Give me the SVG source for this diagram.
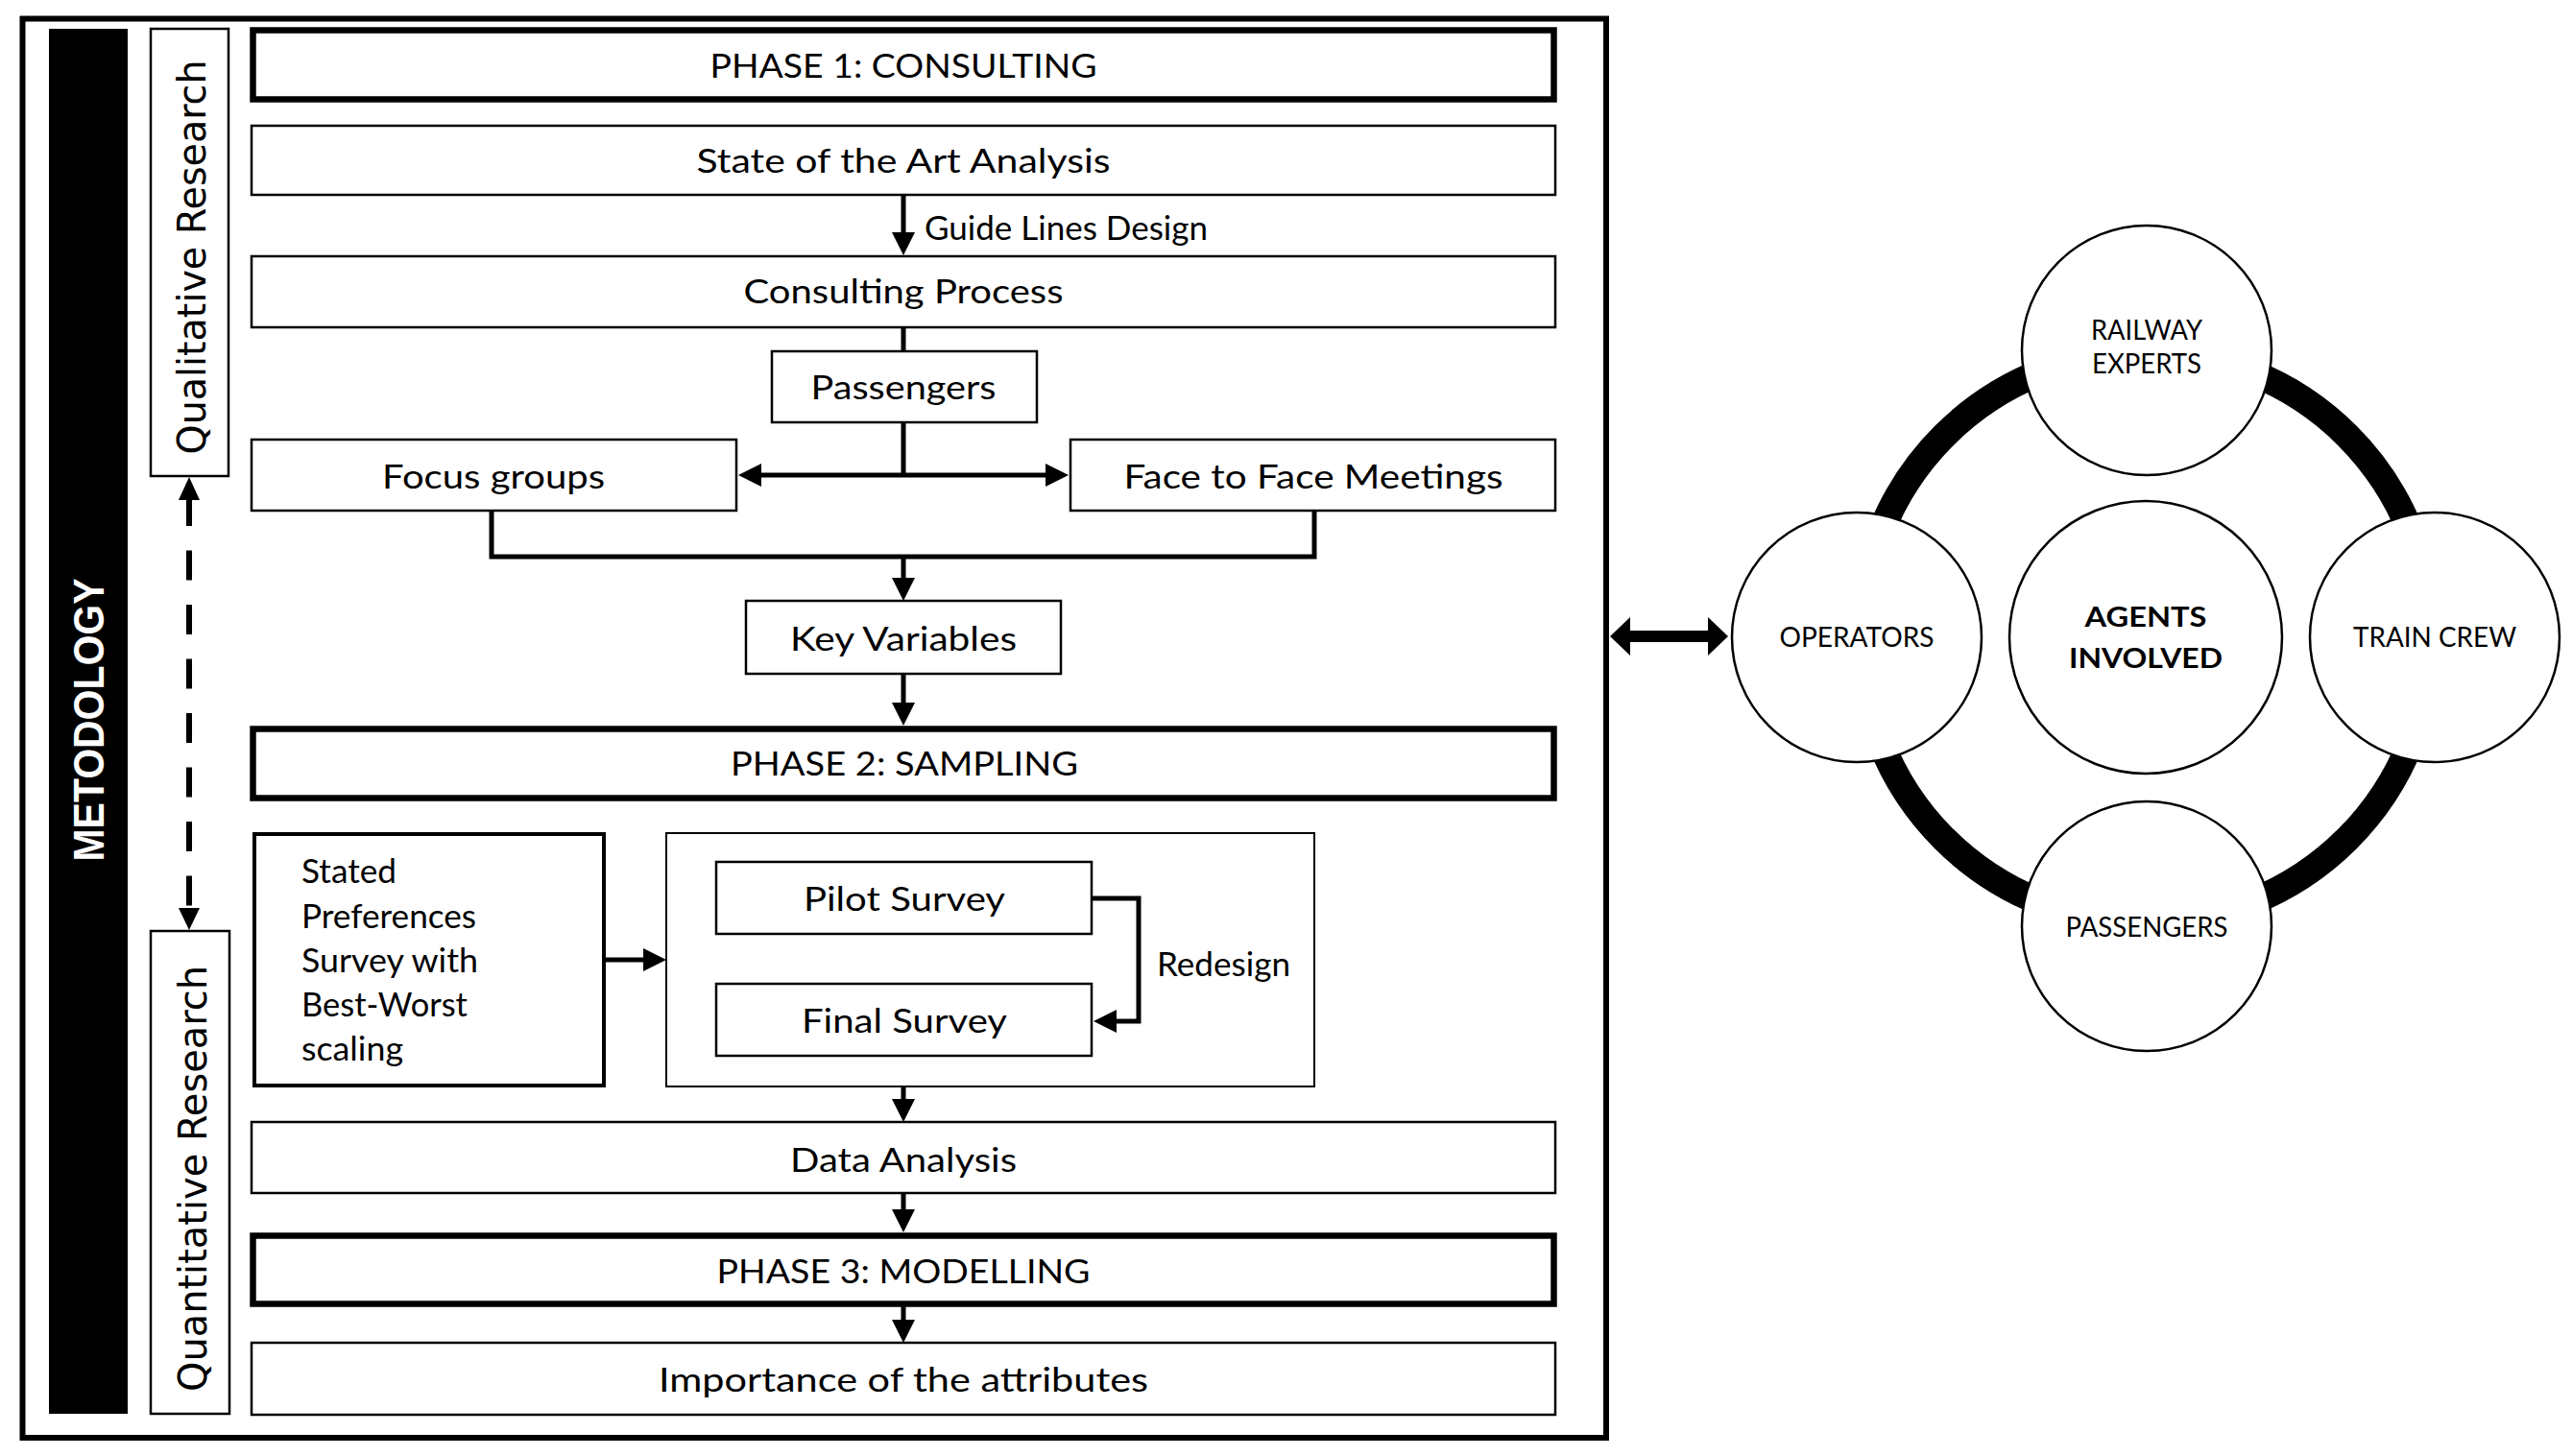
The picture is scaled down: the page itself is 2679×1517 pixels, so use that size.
<svg xmlns="http://www.w3.org/2000/svg" width="2679" height="1517" viewBox="0 0 2679 1517">
<style>
.t{font-family:Lato,"Liberation Sans",sans-serif;font-size:34px;fill:#000;text-anchor:middle}
.tl{text-anchor:start}
.box{fill:#fff;stroke:#000;stroke-width:2.5}
.phase{fill:#fff;stroke:#000;stroke-width:6.5}
.ln{fill:none;stroke:#000;stroke-width:5}
.ct{font-family:Lato,"Liberation Sans",sans-serif;font-size:28px;fill:#000;text-anchor:middle}
.circ{fill:#fff;stroke:#000;stroke-width:2.5}
</style>
<defs>
<marker id="a" viewBox="0 0 24 24" markerUnits="userSpaceOnUse" markerWidth="24" markerHeight="24" refX="18" refY="12" orient="auto-start-reverse">
<path d="M0,0 L24,12 L0,24 z" fill="#000"/>
</marker>
</defs>
<rect width="2679" height="1517" fill="#fff"/>

<g id="frame">
<rect x="23.5" y="19.5" width="1649.5" height="1478.5" fill="none" stroke="#000" stroke-width="6"/>
</g>

<g id="metodology">
<rect x="51" y="30" width="82" height="1443" fill="#000"/>
<text transform="translate(108,750) rotate(-90)" font-family="'Liberation Sans',Arial,sans-serif" font-weight="bold" font-size="44" fill="#fff" text-anchor="middle" textLength="295" lengthAdjust="spacingAndGlyphs">METODOLOGY</text>
</g>

<g id="qualitative">
<rect class="box" x="157" y="30" width="81" height="466"/>
<text transform="translate(214,268) rotate(-90)" font-family="'DejaVu Sans',sans-serif" font-size="40" text-anchor="middle" textLength="411" lengthAdjust="spacingAndGlyphs">Qualitative Research</text>
</g>

<g id="quantitative">
<rect class="box" x="157" y="970" width="82" height="503"/>
<text transform="translate(215,1228) rotate(-90)" font-family="'DejaVu Sans',sans-serif" font-size="40" text-anchor="middle" textLength="444" lengthAdjust="spacingAndGlyphs">Quantitative Research</text>
</g>

<g id="phase1">
<rect class="phase" x="263.5" y="31.5" width="1355" height="72"/>
<text class="t" x="941" y="81" textLength="403" lengthAdjust="spacingAndGlyphs">PHASE 1: CONSULTING</text>
</g>

<g id="state">
<rect class="box" x="262" y="131" width="1358" height="72"/>
<text class="t" x="941" y="180" textLength="431" lengthAdjust="spacingAndGlyphs">State of the Art Analysis</text>
</g>

<g id="consulting">
<rect class="box" x="262" y="267" width="1358" height="74"/>
<text class="t" x="941" y="316" textLength="333" lengthAdjust="spacingAndGlyphs">Consulting Process</text>
</g>

<g id="passengers-box">
<rect class="box" x="804" y="366" width="276" height="74"/>
<text class="t" x="941" y="416" textLength="193" lengthAdjust="spacingAndGlyphs">Passengers</text>
</g>

<g id="focus">
<rect class="box" x="262" y="458" width="505" height="74"/>
<text class="t" x="514" y="509" textLength="232" lengthAdjust="spacingAndGlyphs">Focus groups</text>
</g>

<g id="face">
<rect class="box" x="1115" y="458" width="505" height="74"/>
<text class="t" x="1368" y="509" textLength="395" lengthAdjust="spacingAndGlyphs">Face to Face Meetings</text>
</g>

<g id="keyvars">
<rect class="box" x="777" y="626" width="328" height="76"/>
<text class="t" x="941" y="678" textLength="236" lengthAdjust="spacingAndGlyphs">Key Variables</text>
</g>

<g id="phase2">
<rect class="phase" x="263.5" y="759.5" width="1355" height="72"/>
<text class="t" x="942" y="808" textLength="362" lengthAdjust="spacingAndGlyphs">PHASE 2: SAMPLING</text>
</g>

<g id="stated">
<rect x="265" y="869" width="364" height="262" fill="#fff" stroke="#000" stroke-width="4"/>
<text class="t tl" x="314" y="920" textLength="99" lengthAdjust="spacingAndGlyphs">Stated</text>
<text class="t tl" x="314" y="967" textLength="182" lengthAdjust="spacingAndGlyphs">Preferences</text>
<text class="t tl" x="314" y="1013" textLength="184" lengthAdjust="spacingAndGlyphs">Survey with</text>
<text class="t tl" x="314" y="1059" textLength="173" lengthAdjust="spacingAndGlyphs">Best-Worst</text>
<text class="t tl" x="314" y="1105" textLength="106" lengthAdjust="spacingAndGlyphs">scaling</text>
</g>

<g id="survey-group">
<rect x="694" y="868" width="675" height="264" fill="#fff" stroke="#000" stroke-width="2"/>
</g>

<g id="pilot">
<rect class="box" x="746" y="898" width="391" height="75"/>
<text class="t" x="942" y="949" textLength="210" lengthAdjust="spacingAndGlyphs">Pilot Survey</text>
</g>

<g id="final">
<rect class="box" x="746" y="1025" width="391" height="75"/>
<text class="t" x="942" y="1076" textLength="214" lengthAdjust="spacingAndGlyphs">Final Survey</text>
</g>

<g id="data">
<rect class="box" x="262" y="1169" width="1358" height="74"/>
<text class="t" x="941" y="1221" textLength="236" lengthAdjust="spacingAndGlyphs">Data Analysis</text>
</g>

<g id="phase3">
<rect class="phase" x="263.5" y="1287.5" width="1355" height="71"/>
<text class="t" x="941" y="1337" textLength="389" lengthAdjust="spacingAndGlyphs">PHASE 3: MODELLING</text>
</g>

<g id="importance">
<rect class="box" x="262" y="1399" width="1358" height="75"/>
<text class="t" x="941" y="1450" textLength="510" lengthAdjust="spacingAndGlyphs">Importance of the attributes</text>
</g>

<g id="connectors">
<path class="ln" d="M941 203 V260" marker-end="url(#a)"/>
<text class="t tl" x="963" y="250" font-size="29" textLength="295" lengthAdjust="spacingAndGlyphs">Guide Lines Design</text>
<path class="ln" d="M941 341 V366"/>
<path class="ln" d="M941 440 V495"/>
<path class="ln" d="M775 495 H1107" stroke-width="6" marker-start="url(#a)" marker-end="url(#a)"/>
<path class="ln" d="M512 532 V580 H1369 V532" stroke-width="7"/>
<path class="ln" d="M941 580 V620" marker-end="url(#a)"/>
<path class="ln" d="M941 702 V750" marker-end="url(#a)"/>
<path class="ln" d="M631 1000 H688" stroke-width="6" marker-end="url(#a)"/>
<path class="ln" d="M1137 936 H1186 V1064 H1145" stroke-width="7" marker-end="url(#a)"/>
<text class="t tl" x="1205" y="1017" font-size="32" textLength="139" lengthAdjust="spacingAndGlyphs">Redesign</text>
<path class="ln" d="M941 1132 V1163" marker-end="url(#a)"/>
<path class="ln" d="M941 1243 V1278" marker-end="url(#a)"/>
<path class="ln" d="M941 1361 V1393" marker-end="url(#a)"/>
<path d="M197 517 V945" fill="none" stroke="#000" stroke-width="6" stroke-dasharray="31 25.5"/>
<polygon points="197,497 186,521 208,521" fill="#000"/>
<polygon points="197,969 186,946 208,946" fill="#000"/>
<path d="M1696 663 H1781" fill="none" stroke="#000" stroke-width="12"/>
<polygon points="1677,663 1698,643 1698,683" fill="#000"/>
<polygon points="1800,663 1779,643 1779,683" fill="#000"/>
</g>

<g id="ring">
<circle cx="2235" cy="664" r="297" fill="none" stroke="#000" stroke-width="28"/>
</g>

<g id="agents">
<circle class="circ" cx="2235" cy="664" r="142"/>
<text class="ct" x="2235" y="653" font-weight="bold" font-size="31" textLength="127" lengthAdjust="spacingAndGlyphs">AGENTS</text>
<text class="ct" x="2235" y="696" font-weight="bold" font-size="31" textLength="160" lengthAdjust="spacingAndGlyphs">INVOLVED</text>
</g>

<g id="railway-experts">
<circle class="circ" cx="2236" cy="365" r="130"/>
<text class="ct" x="2236" y="354" textLength="116" lengthAdjust="spacingAndGlyphs">RAILWAY</text>
<text class="ct" x="2236" y="389" textLength="114" lengthAdjust="spacingAndGlyphs">EXPERTS</text>
</g>

<g id="operators">
<circle class="circ" cx="1934" cy="664" r="130"/>
<text class="ct" x="1934" y="674" textLength="161" lengthAdjust="spacingAndGlyphs">OPERATORS</text>
</g>

<g id="train-crew">
<circle class="circ" cx="2536" cy="664" r="130"/>
<text class="ct" x="2536" y="674" textLength="170" lengthAdjust="spacingAndGlyphs">TRAIN CREW</text>
</g>

<g id="passengers-agent">
<circle class="circ" cx="2236" cy="965" r="130"/>
<text class="ct" x="2236" y="976" textLength="169" lengthAdjust="spacingAndGlyphs">PASSENGERS</text>
</g>
</svg>
